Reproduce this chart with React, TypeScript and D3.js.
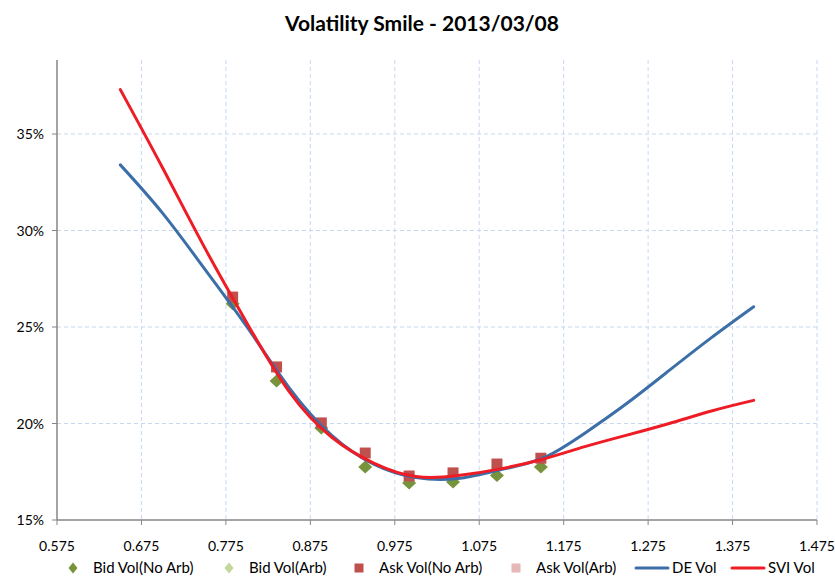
import * as d3 from 'd3';

// moneyness grid for the fitted curves
const curveStrikes = [0.65, 0.7, 0.75, 0.8, 0.85, 0.9, 0.95, 1.0, 1.05, 1.1, 1.15, 1.2, 1.25, 1.3, 1.35, 1.4];
const deVol = [33.4, 30.9, 28.0, 25.0, 21.85, 19.4, 17.9, 17.2, 17.15, 17.6, 18.2, 19.5, 21.05, 22.75, 24.45, 26.05];
const sviVol = [37.3, 33.25, 29.1, 25.2, 21.65, 19.3, 17.95, 17.25, 17.3, 17.65, 18.15, 18.8, 19.4, 20.0, 20.65, 21.2];

// market quotes
const quoteStrikes = [0.783, 0.835, 0.888, 0.94, 0.992, 1.044, 1.096, 1.148];
const bidVol = [26.2, 22.2, 19.77, 17.75, 16.92, 16.97, 17.3, 17.75];
const askVol = [26.55, 22.93, 20.03, 18.47, 17.28, 17.44, 17.9, 18.2];

const xTicks = [0.575, 0.675, 0.775, 0.875, 0.975, 1.075, 1.175, 1.275, 1.375, 1.475];
const yTicks = [15, 20, 25, 30, 35];

const legendItems = [
  { label: 'Bid Vol(No Arb)', kind: 'diamond', color: '#77933c' },
  { label: 'Bid Vol(Arb)', kind: 'diamond', color: '#c3d69b' },
  { label: 'Ask Vol(No Arb)', kind: 'square', color: '#c0504d' },
  { label: 'Ask Vol(Arb)', kind: 'square', color: '#e6b9b8' },
  { label: 'DE Vol', kind: 'line', color: '#3c6ea8' },
  { label: 'SVI Vol', kind: 'line', color: '#ee1c25' },
];
const legendX = [73, 229, 359, 516, 652, 748];

const W = 835;
const H = 576;
const left = 57;
const right = 817;
const bottom = 520;
const top = 60;

const font = 'Lato, "Open Sans", sans-serif';

const diamondPath = (w: number, h: number) => `M0,${-h}L${w},0L0,${h}L${-w},0Z`;

export default function App() {
  const x = d3.scaleLinear().domain([0.575, 1.475]).range([left, right]);
  const y = d3.scaleLinear().domain([15, 35]).range([bottom, 134]);

  const line = d3
    .line<number>()
    .x((_, i) => x(curveStrikes[i]))
    .y((d) => y(d))
    .curve(d3.curveNatural);

  return (
    <svg width={W} height={H} style={{ position: 'absolute', left: 0, top: 0, background: '#fff' }}>
      <text x={422} y={31} textAnchor="middle" fontFamily={font} fontWeight="bold" fontSize={21} fill="#000">
        Volatility Smile - 2013/03/08
      </text>

      {/* grid */}
      {yTicks.slice(1).map((t) => (
        <line key={'hy' + t} x1={left} x2={right} y1={y(t)} y2={y(t)} stroke="#c6d9f1" strokeWidth={1} strokeDasharray="4,3" />
      ))}
      {xTicks.slice(1).map((t) => (
        <line key={'vx' + t} x1={x(t)} x2={x(t)} y1={top} y2={bottom} stroke="#c6d9f1" strokeWidth={1} strokeDasharray="4,3" />
      ))}

      {/* axes */}
      <line x1={left} x2={left} y1={top} y2={bottom} stroke="#868686" strokeWidth={1.5} />
      <line x1={left} x2={right} y1={bottom} y2={bottom} stroke="#868686" strokeWidth={1.5} />
      {yTicks.map((t) => (
        <g key={'yt' + t}>
          <line x1={left - 5} x2={left} y1={y(t)} y2={y(t)} stroke="#868686" />
          <text x={44} y={y(t) + 5} textAnchor="end" fontFamily={font} fontSize={14} fill="#000">
            {t}%
          </text>
        </g>
      ))}
      {xTicks.map((t) => (
        <g key={'xt' + t}>
          <line x1={x(t)} x2={x(t)} y1={bottom} y2={bottom + 5} stroke="#868686" />
          <text x={x(t)} y={551} textAnchor="middle" fontFamily={font} fontSize={14} fill="#000">
            {t.toFixed(3)}
          </text>
        </g>
      ))}

      {/* quotes */}
      {bidVol.map((v, i) => (
        <path key={'b' + i} d={diamondPath(7, 6.5)} transform={`translate(${x(quoteStrikes[i])},${y(v)})`} fill="#77933c" />
      ))}
      {askVol.map((v, i) => (
        <rect key={'a' + i} x={x(quoteStrikes[i]) - 5.5} y={y(v) - 5.5} width={11} height={11} fill="#c0504d" />
      ))}

      {/* fitted curves */}
      <path d={line(deVol)!} fill="none" stroke="#3c6ea8" strokeWidth={3} strokeLinecap="round" />
      <path d={line(sviVol)!} fill="none" stroke="#ee1c25" strokeWidth={3} strokeLinecap="round" />

      {/* legend */}
      {legendItems.map((item, i) => {
        const cx = legendX[i];
        const cy = 568;
        return (
          <g key={item.label}>
            {item.kind === 'diamond' && (
              <path d={diamondPath(4.5, 5.5)} transform={`translate(${cx},${cy})`} fill={item.color} />
            )}
            {item.kind === 'square' && <rect x={cx - 4.5} y={cy - 4.5} width={9} height={9} fill={item.color} />}
            {item.kind === 'line' && (
              <line x1={cx - 16} x2={cx + 16} y1={cy} y2={cy} stroke={item.color} strokeWidth={3} strokeLinecap="round" />
            )}
            <text x={cx + 20} y={cy + 5} fontFamily={font} fontSize={15} fill="#000">
              {item.label}
            </text>
          </g>
        );
      })}
    </svg>
  );
}
